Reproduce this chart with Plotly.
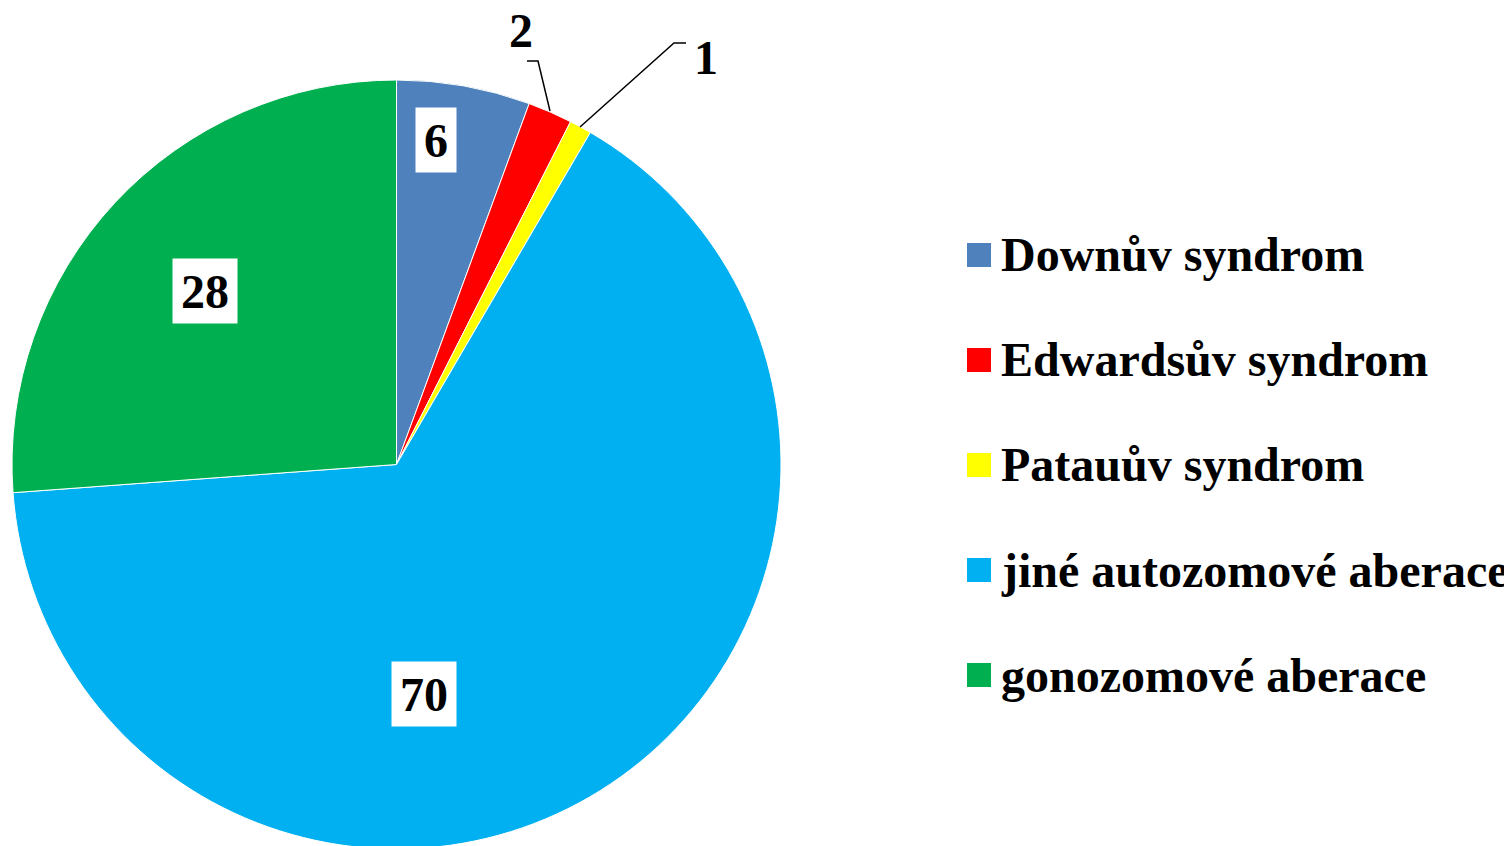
import plotly.graph_objects as go

W, H = 1512, 846
OFF = 8  # page body margin shifts the figure by this many pixels

categories = ["Downův syndrom", "Edwardsův syndrom", "Patauův syndrom",
              "jiné autozomové aberace", "gonozomové aberace"]
counts = [6, 2, 1, 70, 28]
colors = ["#4F81BD", "#FF0000", "#FFFF00", "#00B0F0", "#00B050"]


# screen pixel -> paper coords
def px_x(x):
    return (x - OFF) / W


def px_y(y):
    return 1 - (y - OFF) / H


FONT = dict(family="Liberation Serif, Times New Roman, serif", size=48, color="black", weight="bold")

# pie centre / radius in screen pixels
cx, cy, r = 396.5, 464.5, 384.5

fig = go.Figure()
fig.add_trace(go.Pie(
    labels=categories,
    values=counts,
    marker=dict(colors=colors, line=dict(color="white", width=1)),
    sort=False,
    direction="clockwise",
    rotation=0,
    textinfo="none",
    hoverinfo="label+value",
    showlegend=False,
    domain=dict(x=[px_x(cx - r), px_x(cx + r)], y=[px_y(cy + r), px_y(cy - r)]),
))

# data label placement (screen pixel centres), boxed or outside with leader line
label_pos = [(436, 140, True), (521, 31, False), (706, 57, False), (424, 694, True), (205, 291, True)]
annotations = []
for val, (lx, ly, boxed) in zip(counts, label_pos):
    a = dict(x=px_x(lx), y=px_y(ly), xref="paper", yref="paper", text=str(val),
             showarrow=False, font=FONT, xanchor="center", yanchor="middle")
    if boxed:
        a.update(bgcolor="white", borderpad=0, height=64, width=16 + 24 * len(str(val)))
    annotations.append(a)

# leader lines for the small slices
leaders = [
    [(550, 111), (538, 61), (527, 61)],
    [(580, 127), (674, 43), (686, 43)],
]
shapes = []
for pts in leaders:
    path = "M " + " L ".join(f"{px_x(x)},{px_y(y)}" for x, y in pts)
    shapes.append(dict(type="path", xref="paper", yref="paper", path=path,
                       line=dict(color="black", width=1.5)))

# manual legend
for i, (name, col) in enumerate(zip(categories, colors)):
    yc = 255 + 105 * i
    shapes.append(dict(type="rect", xref="paper", yref="paper",
                       x0=px_x(967), x1=px_x(991), y0=px_y(yc + 12), y1=px_y(yc - 12),
                       fillcolor=col, line=dict(width=0)))
    annotations.append(dict(x=px_x(999), y=px_y(yc), xref="paper", yref="paper", text=name,
                            showarrow=False, font=FONT, xanchor="left", yanchor="middle"))

fig.update_layout(
    width=W, height=H,
    margin=dict(l=0, r=0, t=0, b=0),
    paper_bgcolor="white",
    plot_bgcolor="white",
    annotations=annotations,
    shapes=shapes,
)

fig.write_html("out.html")
